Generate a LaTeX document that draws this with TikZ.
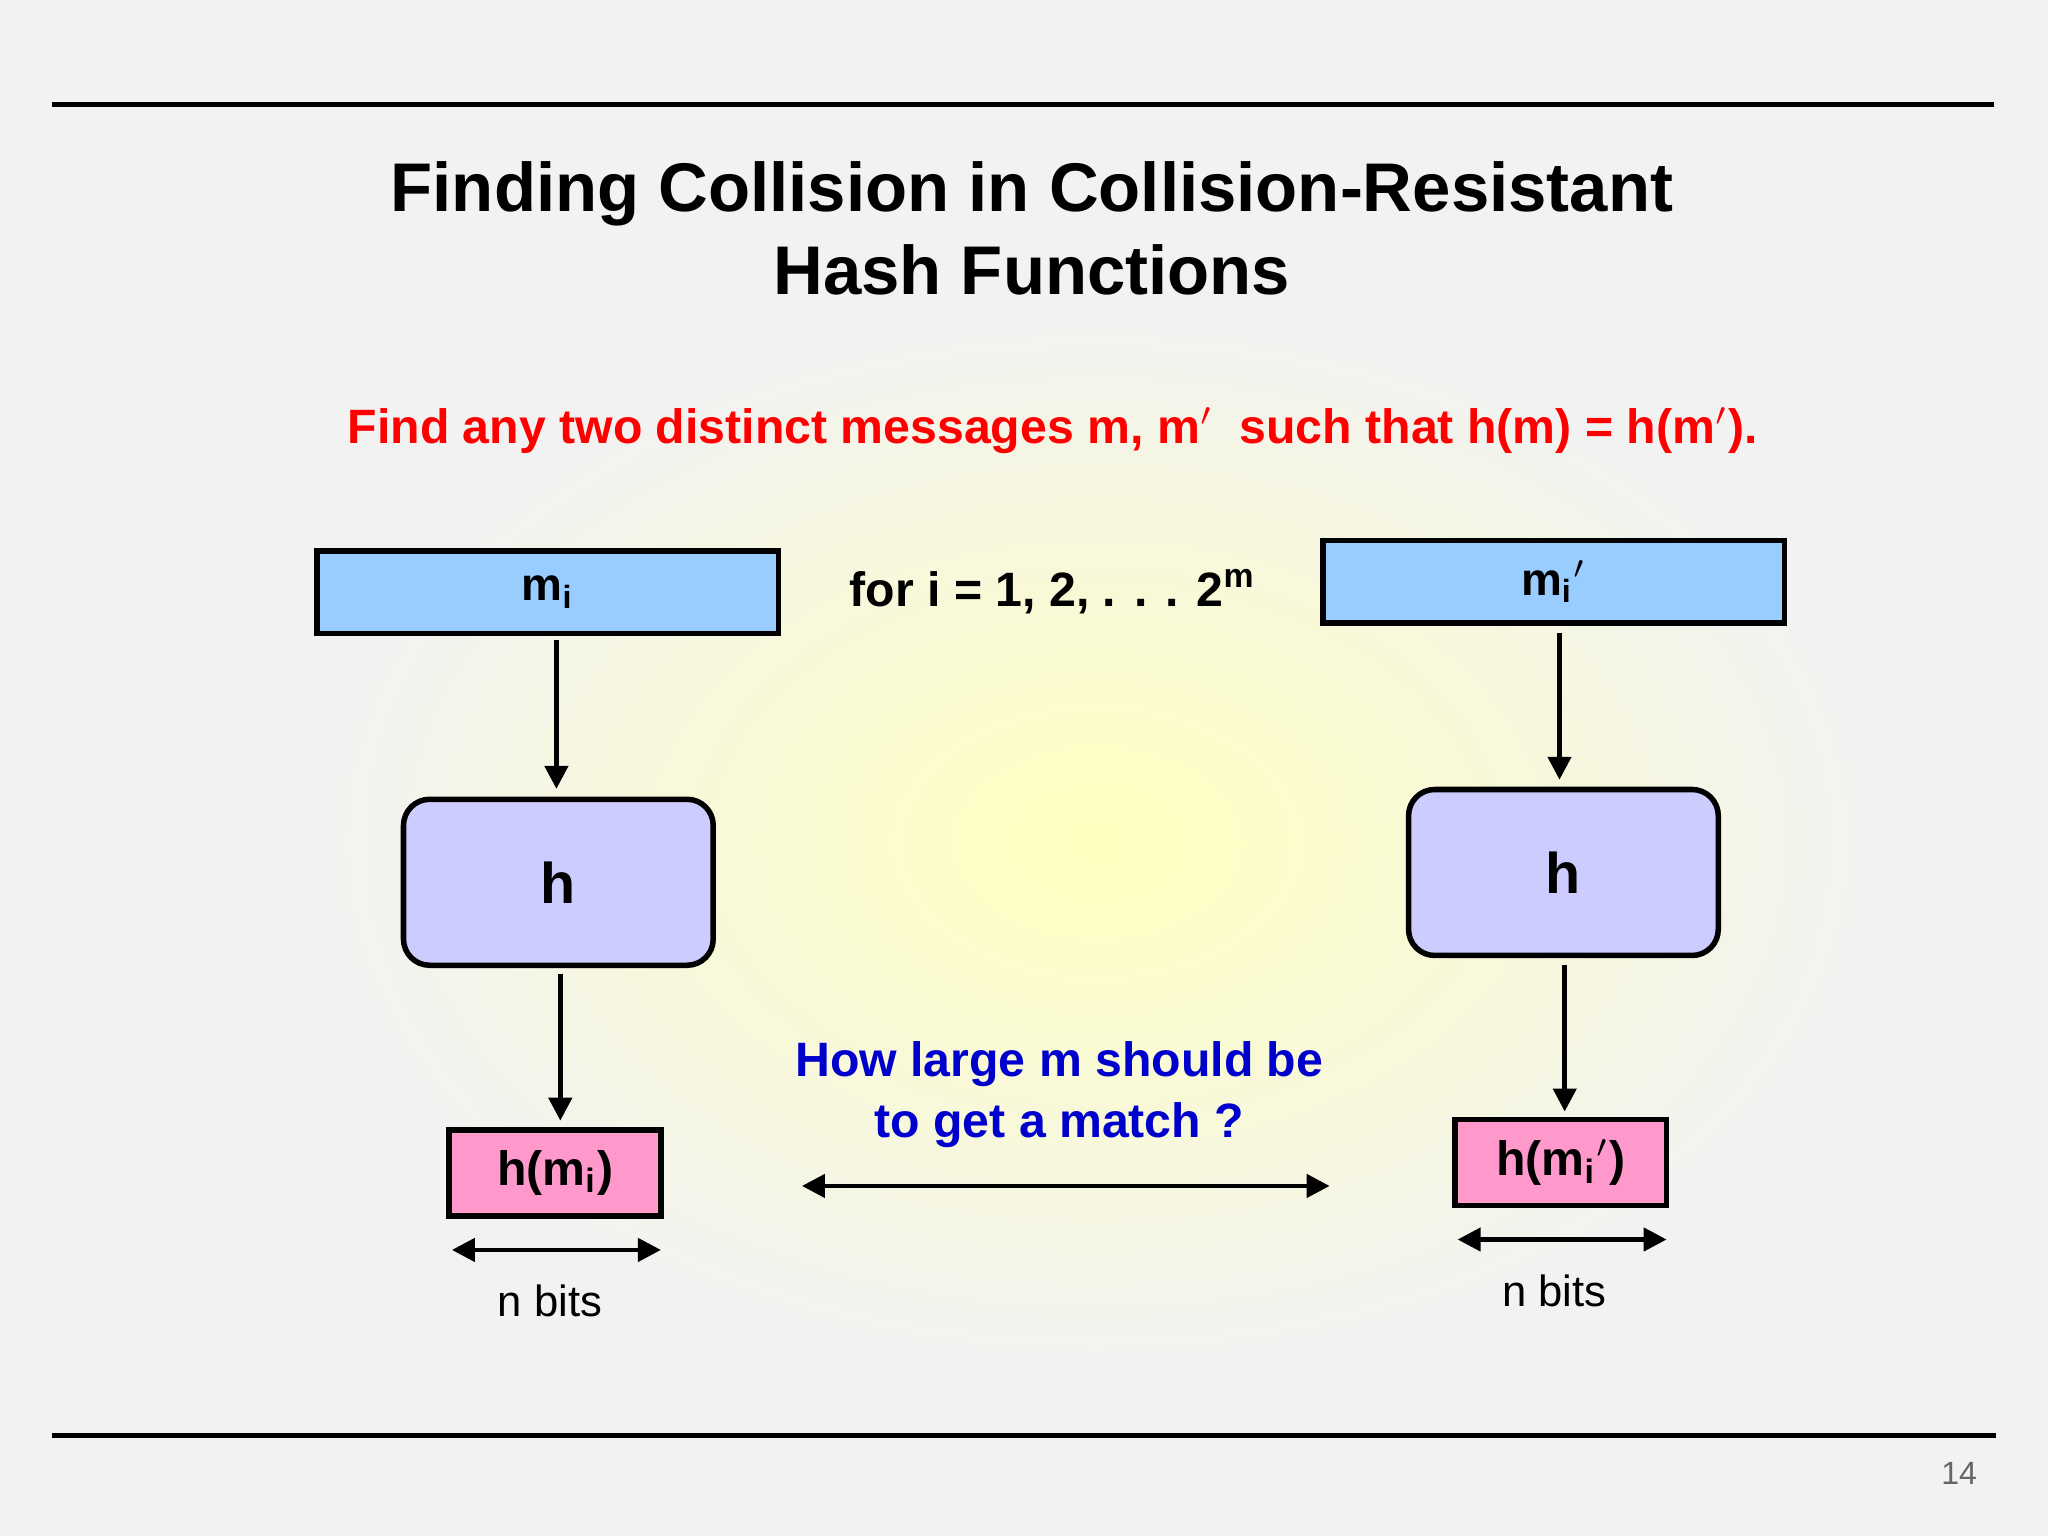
\documentclass[tikz,border=0pt]{standalone}
\usepackage{fontspec}
\setmainfont{Liberation Sans}
\usetikzlibrary{arrows.meta}
\definecolor{bg}{HTML}{F2F2F2}
\definecolor{mblue}{HTML}{99CCFF}
\definecolor{hblue}{HTML}{CCCCFF}
\definecolor{pinkb}{HTML}{FF99CC}
\tikzset{
 msgbox/.style={draw=black,line width=1.2pt,fill=mblue,minimum width=3.53cm,minimum height=0.63cm,inner sep=0pt,font=\bfseries\fontsize{10}{12}\selectfont},
 hbox/.style={draw=black,line width=1.2pt,fill=hblue,rounded corners=0.2cm,minimum width=2.37cm,minimum height=1.27cm,inner sep=0pt,font=\bfseries\fontsize{12.5}{14}\selectfont},
 outbox/.style={draw=black,line width=1.2pt,fill=pinkb,minimum width=1.62cm,minimum height=0.66cm,inner sep=0pt,font=\bfseries\fontsize{10.5}{12}\selectfont},
 arr/.style={line width=1pt,-{Triangle[length=5pt,width=5pt]}},
 darr/.style={line width=1pt,{Triangle[length=5pt,width=5pt]}-{Triangle[length=5pt,width=5pt]}},
}
\begin{document}
\begin{tikzpicture}[x=0.01cm,y=-0.01cm]
\fill[bg] (0,0) rectangle (1568,1176);
\shade[inner color=yellow!25,outer color=bg] (240,240) rectangle (1440,1050);
\useasboundingbox (0,0) rectangle (1568,1176);
\draw[line width=1.2pt] (40,80) -- (1527,80);
\draw[line width=1.2pt] (40,1099) -- (1528,1099);
\node[font=\bfseries\fontsize{15}{18}\selectfont,align=center] (title) at (790,175) {Finding Collision in Collision-Resistant\\Hash Functions};
\node[font=\bfseries\fontsize{10.5}{12}\selectfont,text=red] (goal) at (806,330) {Find any two distinct messages m, m$'$\ \ such that h(m) = h(m$'$).};
\node[msgbox] (m1) at (419.5,453.5) {m\textsubscript{i}};
\node[msgbox] (m2) at (1189.5,445.5) {m\textsubscript{i}$'$};
\node[font=\bfseries\fontsize{10.5}{12}\selectfont] (loop) at (806,453) {for i = 1, 2, . . . 2\textsuperscript{m}};
\node[hbox] (h1) at (427.5,675.5) {h};
\node[hbox] (h2) at (1197,668) {h};
\node[outbox] (o1) at (425,898) {h(m\textsubscript{i})};
\node[outbox] (o2) at (1195,890) {h(m\textsubscript{i}$'$)};
\coordinate (a1s) at (426,490); \coordinate (a1e) at (426,604);
\coordinate (a2s) at (1194,485); \coordinate (a2e) at (1194,597);
\coordinate (b1s) at (429,746); \coordinate (b1e) at (429,858);
\coordinate (b2s) at (1198,739); \coordinate (b2e) at (1198,851);
\draw[arr] (a1s) -- (a1e);
\draw[arr] (a2s) -- (a2e);
\draw[arr] (b1s) -- (b1e);
\draw[arr] (b2s) -- (b2e);
\coordinate (n1a) at (346,957); \coordinate (n1b) at (506,957);
\coordinate (n2a) at (1116,949); \coordinate (n2b) at (1276,949);
\draw[darr] (n1a) -- (n1b);
\draw[darr] (n2a) -- (n2b);
\node[font=\fontsize{9.5}{11}\selectfont] (nb1) at (421,996) {n bits};
\node[font=\fontsize{9.5}{11}\selectfont] (nb2) at (1190,988) {n bits};
\node[font=\bfseries\fontsize{10.5}{13.2}\selectfont,text={rgb,255:red,0;green,0;blue,204},align=center] (q) at (811,838) {How large m should be\\to get a match ?};
\coordinate (ma) at (614,908); \coordinate (mb) at (1018,908);
\draw[darr] (ma) -- (mb);
\node[font=\fontsize{7}{8}\selectfont,text=black!60] (pg) at (1500,1128) {14};
\end{tikzpicture}
\end{document}
